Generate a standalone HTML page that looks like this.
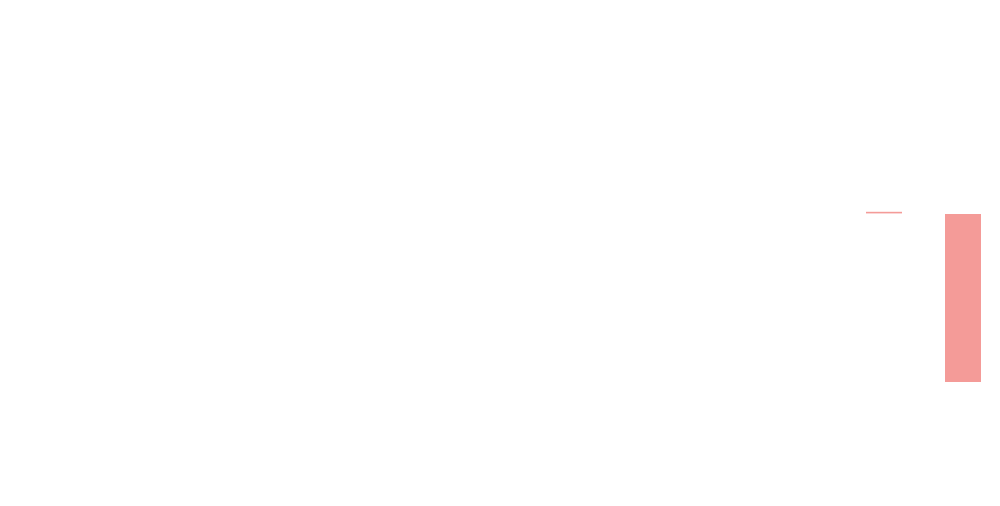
<!DOCTYPE html>
<html><head><meta charset="utf-8"><style>
html,body{margin:0;padding:0;background:#fff;}
svg{display:block;font-family:"Liberation Sans",sans-serif;}
</style></head><body>
<svg id="chart" width="1000" height="506" viewBox="0 0 1000 506"></svg>
<script>
const categories = ["a", "b"];
const barStarts = [84.3, 0];
const barEnds = [85.1, 84];
const ns = "http://www.w3.org/2000/svg";
const svg = document.getElementById('chart');
const baseY = 382, pxPerUnit = 2;
function y(v){ return baseY - v * pxPerUnit; }
function x(i){ return 866 + i * 79; }
const bw = 36;
categories.forEach((c, i) => {
  const r = document.createElementNS(ns, 'rect');
  const top = y(Math.max(barStarts[i], barEnds[i]));
  const bot = y(Math.min(barStarts[i], barEnds[i]));
  r.setAttribute('x', x(i));
  r.setAttribute('y', top);
  r.setAttribute('width', bw);
  r.setAttribute('height', Math.max(1.5, bot - top));
  r.setAttribute('fill', '#f49b98');
  
  
  svg.appendChild(r);
});
</script>
</body></html>
